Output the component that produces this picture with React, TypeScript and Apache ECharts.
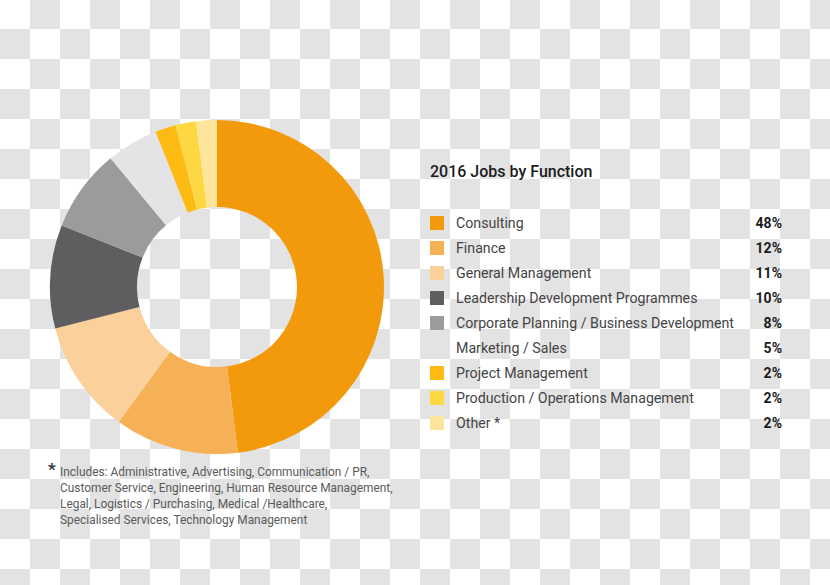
import React, { useEffect, useRef } from "react";
import * as echarts from "echarts";

const categories = [
  "Consulting",
  "Finance",
  "General Management",
  "Leadership Development Programmes",
  "Corporate Planning / Business Development",
  "Marketing / Sales",
  "Project Management",
  "Production / Operations Management",
  "Other *",
];
const shares = [48, 12, 11, 10, 8, 5, 2, 2, 2];
const sliceColors = [
  "#F39A0C",
  "#F6B055",
  "#FAD09B",
  "#5E5E60",
  "#9B9B9D",
  "#E4E4E6",
  "#FDBA12",
  "#FED843",
  "#FDE69C",
];
const titleText = "2016 Jobs by Function";
const footnoteLines = [
  "Includes: Administrative, Advertising, Communication / PR,",
  "Customer Service, Engineering, Human Resource Management,",
  "Legal, Logistics / Purchasing, Medical /Healthcare,",
  "Specialised Services, Technology Management",
];

const FONT = "Roboto, 'Noto Sans', sans-serif";

export default function App() {
  const ref = useRef<HTMLDivElement>(null);
  useEffect(() => {
    const chart = echarts.init(ref.current!, null, { renderer: "svg" });
    const pctOf: Record<string, number> = {};
    categories.forEach((c, i) => (pctOf[c] = shares[i]));
    chart.setOption({
      animation: false,
      backgroundColor: "transparent",
      title: [
        {
          text: titleText,
          left: 425,
          top: 158,
          padding: 5,
          textStyle: { fontFamily: FONT, fontSize: 16, fontWeight: 500, color: "#1c1c1c" },
        },
        {
          text: "*",
          left: 43,
          top: 455,
          textStyle: { fontFamily: FONT, fontSize: 17, fontWeight: "bold", color: "#333" },
        },
        {
          text: footnoteLines.join("\n"),
          left: 55,
          top: 459,
          textStyle: {
            fontFamily: FONT,
            fontSize: 11.9,
            fontWeight: "normal",
            lineHeight: 16,
            color: "#5a5a5a",
          },
        },
      ],
      legend: {
        orient: "vertical",
        left: 425,
        top: 211,
        icon: "rect",
        itemWidth: 14,
        itemHeight: 14,
        itemGap: 11,
        selectedMode: false,
        data: categories,
        formatter: (name: string) => `{n|${name}}{p|${pctOf[name]}%}`,
        textStyle: {
          fontFamily: FONT,
          fontSize: 14,
          lineHeight: 14,
          rich: {
            n: {
              fontFamily: FONT,
              fontSize: 14.2,
              lineHeight: 14,
              color: "#444",
              width: 300,
              padding: [0, 0, 0, 7],
            },
            p: {
              fontFamily: FONT,
              fontSize: 14,
              lineHeight: 14,
              fontWeight: "bold",
              color: "#1c1c1c",
              width: 26,
              align: "right",
            },
          },
        },
      },
      series: [
        {
          type: "pie",
          center: [217, 287],
          radius: [80, 167],
          startAngle: 90,
          clockwise: true,
          label: { show: false },
          labelLine: { show: false },
          emphasis: { disabled: true },
          itemStyle: { borderWidth: 0 },
          data: categories.map((c, i) => ({
            name: c,
            value: shares[i],
            itemStyle: { color: sliceColors[i] },
          })),
        },
      ],
    });
    return () => chart.dispose();
  }, []);
  return (
    <div
      ref={ref}
      style={{
        position: "absolute",
        left: 0,
        top: 0,
        width: 830,
        height: 585,
        backgroundImage: "repeating-conic-gradient(#e3e3e3 0 25%, #ffffff 0 50%)",
        backgroundSize: "60px 60px",
        backgroundPosition: "0 -1px",
      }}
    />
  );
}
